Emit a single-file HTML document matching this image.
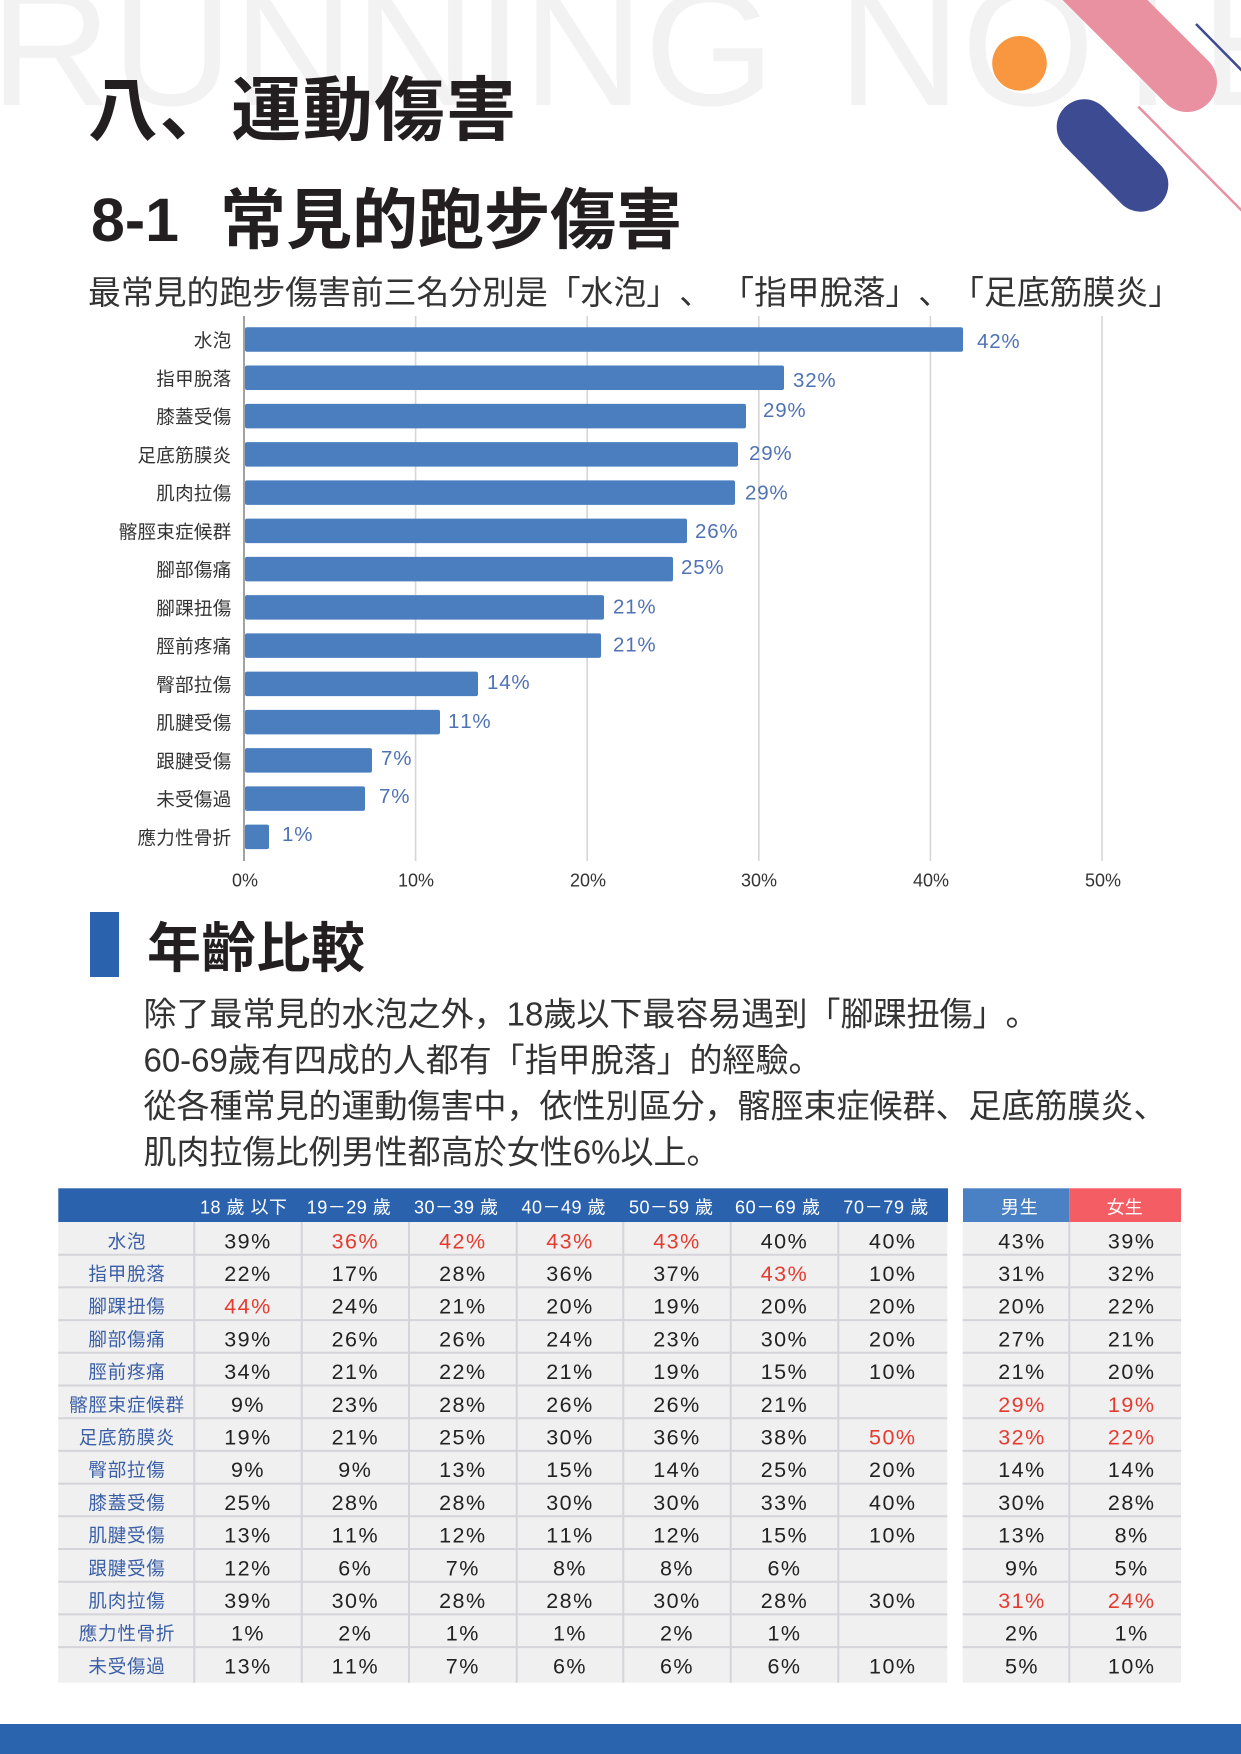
<!DOCTYPE html>
<html><head><meta charset="utf-8">
<style>
html,body{margin:0;padding:0;background:#fff;}
svg{display:block}
text{font-family:"Liberation Sans","Noto Sans CJK JP",sans-serif;text-spacing-trim:space-all;font-kerning:none;}
.cat{font-size:18.5px;fill:#333;text-anchor:end;letter-spacing:0.3px}
.val{font-size:20.5px;fill:#4f72b4;letter-spacing:0.8px}
.ax{font-size:18px;fill:#333;text-anchor:middle}
.v{font-size:21.5px;fill:#222;text-anchor:middle;letter-spacing:1.5px}
.lb{font-size:18.5px;fill:#3b5fa6;text-anchor:middle;letter-spacing:0.8px}
.hd{font-size:18px;fill:#fff}
.r{fill:#e53b2f}
.p{font-size:33px;fill:#333}
</style></head><body>
<svg width="1241" height="1754" viewBox="0 0 1241 1754" xmlns="http://www.w3.org/2000/svg">
<rect x="0" y="0" width="1241" height="1754" fill="#fff"/>
<!-- watermark -->
<text x="-10" y="105" font-size="165" fill="#f2f2f2" textLength="785" lengthAdjust="spacingAndGlyphs">RUNNING</text>
<text x="837" y="105" font-size="172" fill="#f2f2f2">NOTE</text>
<!-- decorations -->
<line x1="905" y1="-200" x2="1187" y2="82" stroke="#e991a0" stroke-width="60" stroke-linecap="round"/>
<circle cx="1019.5" cy="63.3" r="27.3" fill="#f8973f"/>
<line x1="1084.2" y1="126.8" x2="1140.8" y2="184.2" stroke="#3c4b92" stroke-width="55" stroke-linecap="round"/>
<line x1="1196" y1="24" x2="1262" y2="91" stroke="#3c4b92" stroke-width="2.5"/>
<line x1="1138.3" y1="106.7" x2="1262" y2="231" stroke="#e991a0" stroke-width="2.5"/>

<!-- headings -->
<text x="88" y="134.5" font-size="70" font-weight="700" fill="#231f20" textLength="428" lengthAdjust="spacing">八、運動傷害</text>
<text x="91" y="241" font-size="61" font-weight="700" fill="#231f20" textLength="88" lengthAdjust="spacingAndGlyphs">8-1</text>
<text x="220" y="243" font-size="66" font-weight="700" fill="#231f20" textLength="462" lengthAdjust="spacing">常見的跑步傷害</text>
<text x="88" y="304" font-size="32.8" fill="#333" textLength="1093" lengthAdjust="spacing">最常見的跑步傷害前三名分別是「水泡」、 「指甲脫落」、「足底筋膜炎」</text>

<!-- bar chart grid -->
<g stroke="#d6d6d6" stroke-width="1.6">
<line x1="415.6" y1="316" x2="415.6" y2="861"/>
<line x1="587.2" y1="316" x2="587.2" y2="861"/>
<line x1="758.8" y1="316" x2="758.8" y2="861"/>
<line x1="930.4" y1="316" x2="930.4" y2="861"/>
<line x1="1102" y1="316" x2="1102" y2="861"/>
</g>
<g fill="#4a7ebf">
<rect x="245" y="327.3" width="718" height="24.5" rx="2"/>
<rect x="245" y="365.56" width="539" height="24.5" rx="2"/>
<rect x="245" y="403.82" width="501" height="24.5" rx="2"/>
<rect x="245" y="442.08" width="493" height="24.5" rx="2"/>
<rect x="245" y="480.34" width="490" height="24.5" rx="2"/>
<rect x="245" y="518.6" width="442" height="24.5" rx="2"/>
<rect x="245" y="556.86" width="428" height="24.5" rx="2"/>
<rect x="245" y="595.12" width="359" height="24.5" rx="2"/>
<rect x="245" y="633.38" width="356" height="24.5" rx="2"/>
<rect x="245" y="671.64" width="233" height="24.5" rx="2"/>
<rect x="245" y="709.9" width="195" height="24.5" rx="2"/>
<rect x="245" y="748.16" width="127" height="24.5" rx="2"/>
<rect x="245" y="786.42" width="120" height="24.5" rx="2"/>
<rect x="245" y="824.68" width="24" height="24.5" rx="2"/>
</g>
<line x1="244" y1="316" x2="244" y2="861" stroke="#8a8a8a" stroke-width="1.6"/>
<text class="cat" x="231.5" y="347">水泡</text>
<text class="cat" x="231.5" y="385.3">指甲脫落</text>
<text class="cat" x="231.5" y="423.6">膝蓋受傷</text>
<text class="cat" x="231.5" y="461.8">足底筋膜炎</text>
<text class="cat" x="231.5" y="500.1">肌肉拉傷</text>
<text class="cat" x="231.5" y="538.4">髂脛束症候群</text>
<text class="cat" x="231.5" y="576.6">腳部傷痛</text>
<text class="cat" x="231.5" y="614.9">腳踝扭傷</text>
<text class="cat" x="231.5" y="653.1">脛前疼痛</text>
<text class="cat" x="231.5" y="691.4">臀部拉傷</text>
<text class="cat" x="231.5" y="729.7">肌腱受傷</text>
<text class="cat" x="231.5" y="767.9">跟腱受傷</text>
<text class="cat" x="231.5" y="806.2">未受傷過</text>
<text class="cat" x="231.5" y="844.4">應力性骨折</text>
<text class="val" x="977" y="348">42%</text>
<text class="val" x="793" y="387.2">32%</text>
<text class="val" x="763" y="417.2">29%</text>
<text class="val" x="749" y="459.9">29%</text>
<text class="val" x="745" y="499.5">29%</text>
<text class="val" x="695" y="537.9">26%</text>
<text class="val" x="681" y="573.9">25%</text>
<text class="val" x="613" y="613.7">21%</text>
<text class="val" x="613" y="651.7">21%</text>
<text class="val" x="487" y="689.2">14%</text>
<text class="val" x="448" y="728">11%</text>
<text class="val" x="381" y="765.2">7%</text>
<text class="val" x="379" y="803.2">7%</text>
<text class="val" x="282" y="841.2">1%</text>
<text class="ax" x="245" y="886.5">0%</text>
<text class="ax" x="416" y="886.5">10%</text>
<text class="ax" x="588" y="886.5">20%</text>
<text class="ax" x="759" y="886.5">30%</text>
<text class="ax" x="931" y="886.5">40%</text>
<text class="ax" x="1103" y="886.5">50%</text>

<!-- age comparison -->
<rect x="90" y="912" width="29" height="65" fill="#2a62ae"/>
<text x="147" y="967" font-size="54" font-weight="700" fill="#231f20" textLength="218" lengthAdjust="spacing">年齡比較</text>
<text class="p" x="143.5" y="1025.5" textLength="895" lengthAdjust="spacing">除了最常見的水泡之外，18歲以下最容易遇到「腳踝扭傷」。</text>
<text class="p" x="143.5" y="1071.5" textLength="678" lengthAdjust="spacing">60-69歲有四成的人都有「指甲脫落」的經驗。</text>
<text class="p" x="143.5" y="1117.5" textLength="1023" lengthAdjust="spacing">從各種常見的運動傷害中，依性別區分，髂脛束症候群、足底筋膜炎、</text>
<text class="p" x="143.5" y="1163.5" textLength="576" lengthAdjust="spacing">肌肉拉傷比例男性都高於女性6%以上。</text>

<!-- table backgrounds -->
<rect x="58.3" y="1188.3" width="889.7" height="33.7" fill="#2a62ae"/>
<rect x="58.3" y="1222" width="889" height="460.7" fill="#f0f0f0"/>
<rect x="963" y="1188.3" width="106.3" height="33.7" fill="#4a80c4"/>
<rect x="1069.3" y="1188.3" width="111.7" height="33.7" fill="#f45d63"/>
<rect x="962.7" y="1222" width="218.3" height="460.7" fill="#f0f0f0"/>
<g stroke="#d4d4da" stroke-width="2">
<line x1="58.3" y1="1254.7" x2="947.3" y2="1254.7"/><line x1="962.7" y1="1254.7" x2="1181" y2="1254.7"/>
<line x1="58.3" y1="1287.4" x2="947.3" y2="1287.4"/><line x1="962.7" y1="1287.4" x2="1181" y2="1287.4"/>
<line x1="58.3" y1="1320.1" x2="947.3" y2="1320.1"/><line x1="962.7" y1="1320.1" x2="1181" y2="1320.1"/>
<line x1="58.3" y1="1352.8" x2="947.3" y2="1352.8"/><line x1="962.7" y1="1352.8" x2="1181" y2="1352.8"/>
<line x1="58.3" y1="1385.5" x2="947.3" y2="1385.5"/><line x1="962.7" y1="1385.5" x2="1181" y2="1385.5"/>
<line x1="58.3" y1="1418.2" x2="947.3" y2="1418.2"/><line x1="962.7" y1="1418.2" x2="1181" y2="1418.2"/>
<line x1="58.3" y1="1450.9" x2="947.3" y2="1450.9"/><line x1="962.7" y1="1450.9" x2="1181" y2="1450.9"/>
<line x1="58.3" y1="1483.6" x2="947.3" y2="1483.6"/><line x1="962.7" y1="1483.6" x2="1181" y2="1483.6"/>
<line x1="58.3" y1="1516.3" x2="947.3" y2="1516.3"/><line x1="962.7" y1="1516.3" x2="1181" y2="1516.3"/>
<line x1="58.3" y1="1549" x2="947.3" y2="1549"/><line x1="962.7" y1="1549" x2="1181" y2="1549"/>
<line x1="58.3" y1="1581.7" x2="947.3" y2="1581.7"/><line x1="962.7" y1="1581.7" x2="1181" y2="1581.7"/>
<line x1="58.3" y1="1614.4" x2="947.3" y2="1614.4"/><line x1="962.7" y1="1614.4" x2="1181" y2="1614.4"/>
<line x1="58.3" y1="1647.1" x2="947.3" y2="1647.1"/><line x1="962.7" y1="1647.1" x2="1181" y2="1647.1"/>
<line x1="194.3" y1="1222" x2="194.3" y2="1682.7"/>
<line x1="301.7" y1="1222" x2="301.7" y2="1682.7"/>
<line x1="409" y1="1222" x2="409" y2="1682.7"/>
<line x1="516.7" y1="1222" x2="516.7" y2="1682.7"/>
<line x1="623.3" y1="1222" x2="623.3" y2="1682.7"/>
<line x1="730.7" y1="1222" x2="730.7" y2="1682.7"/>
<line x1="838.3" y1="1222" x2="838.3" y2="1682.7"/>
<line x1="1069.3" y1="1222" x2="1069.3" y2="1682.7"/>
</g>

<!-- table header text -->
<text class="hd" x="200" y="1213.5" textLength="87" lengthAdjust="spacing">18 歲 以下</text>
<text class="hd" x="306.7" y="1213.5" textLength="84" lengthAdjust="spacing">19－29 歲</text>
<text class="hd" x="414" y="1213.5" textLength="84" lengthAdjust="spacing">30－39 歲</text>
<text class="hd" x="521.5" y="1213.5" textLength="84" lengthAdjust="spacing">40－49 歲</text>
<text class="hd" x="629" y="1213.5" textLength="84" lengthAdjust="spacing">50－59 歲</text>
<text class="hd" x="735" y="1213.5" textLength="85" lengthAdjust="spacing">60－69 歲</text>
<text class="hd" x="843.3" y="1213.5" textLength="85" lengthAdjust="spacing">70－79 歲</text>
<text class="hd" x="1001" y="1213.5" textLength="36.7" lengthAdjust="spacing">男生</text>
<text class="hd" x="1106.7" y="1213.5" textLength="36" lengthAdjust="spacing">女生</text>

<!-- row labels -->
<text class="lb" x="127" y="1247.8">水泡</text>
<text class="lb" x="127" y="1280.5">指甲脫落</text>
<text class="lb" x="127" y="1313.2">腳踝扭傷</text>
<text class="lb" x="127" y="1345.9">腳部傷痛</text>
<text class="lb" x="127" y="1378.6">脛前疼痛</text>
<text class="lb" x="127" y="1411.3">髂脛束症候群</text>
<text class="lb" x="127" y="1444">足底筋膜炎</text>
<text class="lb" x="127" y="1476.7">臀部拉傷</text>
<text class="lb" x="127" y="1509.4">膝蓋受傷</text>
<text class="lb" x="127" y="1542.1">肌腱受傷</text>
<text class="lb" x="127" y="1574.8">跟腱受傷</text>
<text class="lb" x="127" y="1607.5">肌肉拉傷</text>
<text class="lb" x="127" y="1640.2">應力性骨折</text>
<text class="lb" x="127" y="1672.9">未受傷過</text>

<!-- values -->
<text class="v" y="1248.3"><tspan x="248">39%</tspan><tspan x="355.35" class="r">36%</tspan><tspan x="462.85" class="r">42%</tspan><tspan x="570" class="r">43%</tspan><tspan x="677" class="r">43%</tspan><tspan x="784.5">40%</tspan><tspan x="892.8">40%</tspan><tspan x="1022">43%</tspan><tspan x="1131.7">39%</tspan></text>
<text class="v" y="1281"><tspan x="248">22%</tspan><tspan x="355.35">17%</tspan><tspan x="462.85">28%</tspan><tspan x="570">36%</tspan><tspan x="677">37%</tspan><tspan x="784.5" class="r">43%</tspan><tspan x="892.8">10%</tspan><tspan x="1022">31%</tspan><tspan x="1131.7">32%</tspan></text>
<text class="v" y="1313.7"><tspan x="248" class="r">44%</tspan><tspan x="355.35">24%</tspan><tspan x="462.85">21%</tspan><tspan x="570">20%</tspan><tspan x="677">19%</tspan><tspan x="784.5">20%</tspan><tspan x="892.8">20%</tspan><tspan x="1022">20%</tspan><tspan x="1131.7">22%</tspan></text>
<text class="v" y="1346.4"><tspan x="248">39%</tspan><tspan x="355.35">26%</tspan><tspan x="462.85">26%</tspan><tspan x="570">24%</tspan><tspan x="677">23%</tspan><tspan x="784.5">30%</tspan><tspan x="892.8">20%</tspan><tspan x="1022">27%</tspan><tspan x="1131.7">21%</tspan></text>
<text class="v" y="1379.1"><tspan x="248">34%</tspan><tspan x="355.35">21%</tspan><tspan x="462.85">22%</tspan><tspan x="570">21%</tspan><tspan x="677">19%</tspan><tspan x="784.5">15%</tspan><tspan x="892.8">10%</tspan><tspan x="1022">21%</tspan><tspan x="1131.7">20%</tspan></text>
<text class="v" y="1411.8"><tspan x="248">9%</tspan><tspan x="355.35">23%</tspan><tspan x="462.85">28%</tspan><tspan x="570">26%</tspan><tspan x="677">26%</tspan><tspan x="784.5">21%</tspan><tspan x="1022" class="r">29%</tspan><tspan x="1131.7" class="r">19%</tspan></text>
<text class="v" y="1444.5"><tspan x="248">19%</tspan><tspan x="355.35">21%</tspan><tspan x="462.85">25%</tspan><tspan x="570">30%</tspan><tspan x="677">36%</tspan><tspan x="784.5">38%</tspan><tspan x="892.8" class="r">50%</tspan><tspan x="1022" class="r">32%</tspan><tspan x="1131.7" class="r">22%</tspan></text>
<text class="v" y="1477.2"><tspan x="248">9%</tspan><tspan x="355.35">9%</tspan><tspan x="462.85">13%</tspan><tspan x="570">15%</tspan><tspan x="677">14%</tspan><tspan x="784.5">25%</tspan><tspan x="892.8">20%</tspan><tspan x="1022">14%</tspan><tspan x="1131.7">14%</tspan></text>
<text class="v" y="1509.9"><tspan x="248">25%</tspan><tspan x="355.35">28%</tspan><tspan x="462.85">28%</tspan><tspan x="570">30%</tspan><tspan x="677">30%</tspan><tspan x="784.5">33%</tspan><tspan x="892.8">40%</tspan><tspan x="1022">30%</tspan><tspan x="1131.7">28%</tspan></text>
<text class="v" y="1542.6"><tspan x="248">13%</tspan><tspan x="355.35">11%</tspan><tspan x="462.85">12%</tspan><tspan x="570">11%</tspan><tspan x="677">12%</tspan><tspan x="784.5">15%</tspan><tspan x="892.8">10%</tspan><tspan x="1022">13%</tspan><tspan x="1131.7">8%</tspan></text>
<text class="v" y="1575.3"><tspan x="248">12%</tspan><tspan x="355.35">6%</tspan><tspan x="462.85">7%</tspan><tspan x="570">8%</tspan><tspan x="677">8%</tspan><tspan x="784.5">6%</tspan><tspan x="1022">9%</tspan><tspan x="1131.7">5%</tspan></text>
<text class="v" y="1608"><tspan x="248">39%</tspan><tspan x="355.35">30%</tspan><tspan x="462.85">28%</tspan><tspan x="570">28%</tspan><tspan x="677">30%</tspan><tspan x="784.5">28%</tspan><tspan x="892.8">30%</tspan><tspan x="1022" class="r">31%</tspan><tspan x="1131.7" class="r">24%</tspan></text>
<text class="v" y="1640.7"><tspan x="248">1%</tspan><tspan x="355.35">2%</tspan><tspan x="462.85">1%</tspan><tspan x="570">1%</tspan><tspan x="677">2%</tspan><tspan x="784.5">1%</tspan><tspan x="1022">2%</tspan><tspan x="1131.7">1%</tspan></text>
<text class="v" y="1673.4"><tspan x="248">13%</tspan><tspan x="355.35">11%</tspan><tspan x="462.85">7%</tspan><tspan x="570">6%</tspan><tspan x="677">6%</tspan><tspan x="784.5">6%</tspan><tspan x="892.8">10%</tspan><tspan x="1022">5%</tspan><tspan x="1131.7">10%</tspan></text>

<!-- bottom bar -->
<rect x="0" y="1724" width="1241" height="30" fill="#2a63ae"/>
</svg>
</body></html>
